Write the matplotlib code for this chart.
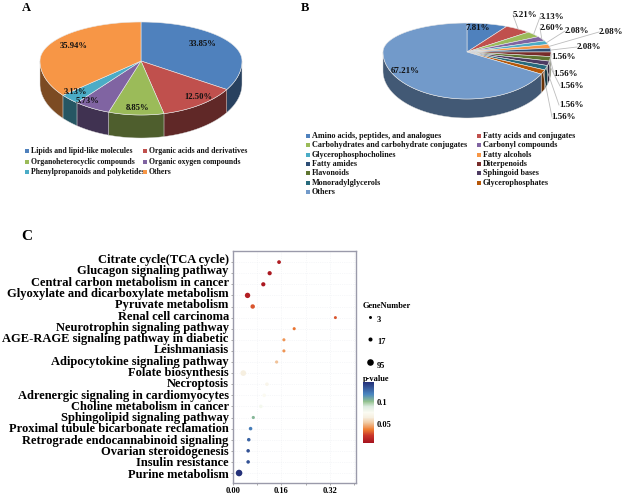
import numpy as np
import matplotlib
matplotlib.use("Agg")
import matplotlib.pyplot as plt
from matplotlib.cm import ScalarMappable
from matplotlib.colors import LinearSegmentedColormap, Normalize, to_rgb
from matplotlib.patches import Polygon
from matplotlib.transforms import ScaledTranslation

plt.rcParams["font.family"] = ["Liberation Serif", "DejaVu Serif"]
plt.rcParams["font.weight"] = "bold"

W, H = 625, 496

a_names = ["Lipids and lipid-like molecules", "Organic acids and derivatives",
           "Organoheterocyclic compounds", "Organic oxygen compounds",
           "Phenylpropanoids and polyketides", "Others"]
a_values = [33.85, 12.50, 8.85, 5.73, 3.13, 35.94]
a_colors = ["#4f81bd", "#c0504d", "#9bbb59", "#8064a2", "#4bacc6", "#f79646"]

b_names = ["Amino acids, peptides, and analogues", "Fatty acids and conjugates",
           "Carbohydrates and carbohydrate conjugates", "Carbonyl compounds",
           "Glycerophosphocholines", "Fatty alcohols", "Fatty amides", "Diterpenoids",
           "Flavonoids", "Sphingoid bases", "Monoradylglycerols", "Glycerophosphates",
           "Others"]
b_values = [7.81, 5.21, 3.13, 2.60, 2.08, 2.08, 2.08, 1.56, 1.56, 1.56, 1.56, 1.56, 67.21]
b_colors = ["#4f81bd", "#c0504d", "#9bbb59", "#8064a2", "#4bacc6", "#f79646", "#2c4d75",
            "#772c2a", "#5f7530", "#4d3b62", "#276a7c", "#b65708", "#729aca"]

pathways = ["Citrate cycle(TCA cycle)", "Glucagon signaling pathway",
            "Central carbon metabolism in cancer", "Glyoxylate and dicarboxylate metabolism",
            "Pyruvate metabolism", "Renal cell carcinoma", "Neurotrophin signaling pathway",
            "AGE-RAGE signaling pathway in diabetic", "Leishmaniasis",
            "Adipocytokine signaling pathway", "Folate biosynthesis", "Necroptosis",
            "Adrenergic signaling in cardiomyocytes", "Choline metabolism in cancer",
            "Sphingolipid signaling pathway", "Proximal tubule bicarbonate reclamation",
            "Retrograde endocannabinoid signaling", "Ovarian steroidogenesis",
            "Insulin resistance", "Purine metabolism"]
rich = [0.152, 0.121, 0.100, 0.048, 0.065, 0.338, 0.202, 0.168, 0.168, 0.144,
        0.034, 0.112, 0.103, 0.092, 0.067, 0.058, 0.052, 0.050, 0.050, 0.020]
genes = [12, 20, 20, 50, 25, 3, 4, 4, 4, 5, 60, 9, 9, 9, 5, 9, 9, 9, 9, 95]
pvals = [.012, .010, .010, .014, .030, .030, .036, .043, .043, .052,
         .066, .072, .076, .080, .105, .122, .130, .136, .136, .146]
gene_legend = [3, 17, 95]


def rim(theta, g):
    # theta clockwise from the top, the near half of the ellipse is stretched
    ry = g["up"] if np.cos(theta) > 0 else g["down"]
    return g["cx"] + g["rx"] * np.sin(theta), g["cy"] - ry * np.cos(theta)


def arc(t0, t1, g):
    ts = np.linspace(t0, t1, max(int((t1 - t0) * 60), 2))
    return np.array([rim(t, g) for t in ts])


def dark(c, f):
    return tuple(v * f for v in to_rgb(c))


def draw_pie(ax, values, colors, g):
    edges = 2 * np.pi * np.cumsum([0] + list(values)) / sum(values)
    for t0, t1, c in zip(edges[:-1], edges[1:], colors):
        lo, hi = max(t0, np.pi / 2), min(t1, 3 * np.pi / 2)
        if hi > lo:
            top = arc(lo, hi, g)
            low = top[::-1] + [0, g["depth"]]
            ax.add_patch(Polygon(np.vstack([top, low]), fc=dark(c, g["shade"]), ec="#d8d8d8", lw=0.3, zorder=2))
    for t0, t1, c in zip(edges[:-1], edges[1:], colors):
        pts = np.vstack([[g["cx"], g["cy"]], arc(t0, t1, g)])
        ax.add_patch(Polygon(pts, fc=c, ec="#e8e8e8", lw=0.4, zorder=3))
    return (edges[:-1] + edges[1:]) / 2


def legend_rows(ax, names, colors, xs, y0, dy, size):
    for i, (n, c) in enumerate(zip(names, colors)):
        x = xs[i % 2]
        y = y0 + dy * (i // 2)
        ax.scatter([x], [y], s=6, marker="s", color=c, lw=0, zorder=4)
        ax.text(x + 4, y, n, fontsize=size, va="center", ha="left", color="#111111")


fig = plt.figure(figsize=(W / 100, H / 100), dpi=100)
bg = fig.add_axes([0, 0, 1, 1])
bg.set_xlim(0, W)
bg.set_ylim(H, 0)
bg.axis("off")

# panel A
geo_a = dict(cx=141, cy=61, rx=101, up=39, down=54, depth=23, shade=0.5)
draw_pie(bg, a_values, a_colors, geo_a)
a_label_xy = [(203, 44), (198, 97), (137, 108), (87, 101), (75, 92), (74, 46)]
for v, (x, y) in zip(a_values, a_label_xy):
    bg.text(x, y, f"{v:.2f}%", fontsize=6.2, ha="center", va="center", color="#111111", zorder=5)
legend_rows(bg, a_names, a_colors, (27, 145), 151, 10.5, 5.6)

# panel B
geo_b = dict(cx=467, cy=52, rx=84, up=29, down=47, depth=19, shade=0.58)
mids = draw_pie(bg, b_values, b_colors, geo_b)
b_label_xy = [(478, 28), (525, 15), (552, 17), (552, 28), (577, 31), (611, 32), (589, 47),
              (563, 57), (566, 74), (572, 86), (571, 105), (564, 117), (405, 71)]
for i, (v, (x, y)) in enumerate(zip(b_values, b_label_xy)):
    if 0 < i < 12:
        rx, ry = rim(mids[i], geo_b)
        bg.plot([rx, x - 12], [ry, y], color="#bdbdbd", lw=0.6, zorder=3.5)
    bg.text(x, y, f"{v:.2f}%", fontsize=6.4, ha="center", va="center", color="#111111", zorder=5)
legend_rows(bg, b_names, b_colors, (308, 479), 136, 9.35, 5.9)

for s, x, y, fs in [("A", 26, 8, 9), ("B", 305, 8, 9), ("C", 27, 236, 11)]:
    bg.text(x, y, s, fontsize=fs, ha="center", va="center")

# panel C
left, right, top, bottom = 233, 356, 251, 483
ax = fig.add_axes([left / W, 1 - bottom / H, (right - left) / W, (bottom - top) / H])
pcmap = LinearSegmentedColormap.from_list(
    "pv", [(0.0, "#a5121e"), (0.12, "#c8342a"), (0.22, "#ee7d32"), (0.33, "#f0c8a0"),
           (0.42, "#f6efe0"), (0.5, "#fbfbf2"), (0.6, "#dcebe0"), (0.68, "#93c28f"),
           (0.8, "#4a86c0"), (1.0, "#232f78")])
pnorm = Normalize(0.007, 0.147)


def dot_size(g):
    # marker area in points^2 from the gene count
    d = (2.2 + 0.45 * np.sqrt(g)) * 0.72
    return d ** 2


y_pos = np.arange(len(pathways))
ax.scatter(rich, y_pos, s=[dot_size(g) for g in genes], c=pvals, cmap=pcmap, norm=pnorm, lw=0, zorder=3)
ax.set_xlim(0, 0.406)
ax.set_ylim(len(pathways) - 1 + 0.9, -1)
ax.set_xticks([0, 0.16, 0.32])
ax.set_xticklabels(["0.00", "0.16", "0.32"], fontsize=6)
ax.set_xticks(np.arange(0, 0.41, 0.08), minor=True)
ax.set_yticks(y_pos)
ax.set_yticklabels(pathways, fontsize=9.0)
ax.tick_params(axis="both", which="both", length=1.5, width=0.5, color="#888888", pad=1.5)
# the labels sit on a slightly wider pitch than the dots
for i, lab in enumerate(ax.get_yticklabels()):
    shift = (len(pathways) - 1 - i) / (len(pathways) - 1) * 0.035
    lab.set_transform(lab.get_transform() + ScaledTranslation(0, shift, fig.dpi_scale_trans))
ax.grid(which="both", color="#eef0f4", lw=0.5, ls=":")
ax.set_axisbelow(True)
for sp in ax.spines.values():
    sp.set_color("#9a9aaa")
    sp.set_linewidth(1.0)

bg.text(363, 306, "GeneNumber", fontsize=6, ha="left", va="center")
for g, y in zip(gene_legend, (317, 339, 362)):
    bg.scatter([370], [y], s=dot_size(g), color="#000000", lw=0)
    bg.text(377, y + 3.5, str(g), fontsize=6, ha="left", va="center")
bg.text(363, 379, "p-value", fontsize=6, ha="left", va="center")

cax = fig.add_axes([363 / W, 1 - 443 / H, 11 / W, 61 / H])
cb = fig.colorbar(ScalarMappable(norm=pnorm, cmap=pcmap), cax=cax)
cb.set_ticks([0.05, 0.1])
cb.set_ticklabels(["0.05", "0.1"], fontsize=6)
cb.ax.tick_params(length=0, pad=2)
cb.outline.set_visible(False)

fig.savefig("out.png", dpi=100)
